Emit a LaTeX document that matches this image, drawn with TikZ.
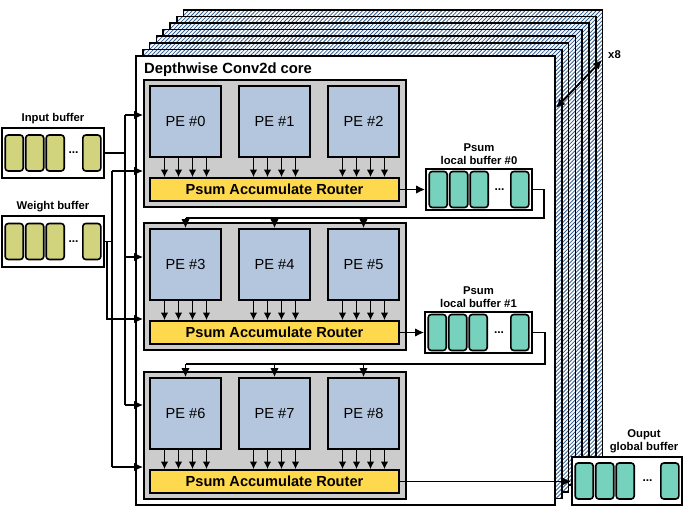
\documentclass[tikz,border=0pt]{standalone}
\usepackage{fontspec}
\setmainfont{Liberation Sans}
\usetikzlibrary{positioning, arrows.meta, patterns.meta}

\definecolor{peblue}{RGB}{180,198,221}
\definecolor{grpgray}{RGB}{204,204,204}
\definecolor{rtyellow}{RGB}{255,217,77}
\definecolor{inolive}{RGB}{210,211,125}
\definecolor{psteal}{RGB}{118,209,189}
\definecolor{hatchblue}{RGB}{52,92,140}

\tikzset{
  wire/.style = {line width=1.8pt},
  flow/.style = {wire, -{Latex[length=9pt,width=8.5pt]}},
  tick/.style = {wire, -{Latex[length=7.5pt,width=7.5pt]}},
  layer/.style = {draw, line width=1.6pt, preaction={fill=white},
    pattern={Lines[angle=45, distance=2.8pt, line width=0.8pt]}, pattern color=hatchblue},
  grp/.style = {draw, line width=1.6pt, fill=grpgray, minimum width=262pt, minimum height=127pt},
  pe/.style = {draw, line width=1.6pt, fill=peblue, minimum width=71pt, minimum height=71pt,
    font=\fontsize{14.6}{17}\selectfont},
  router/.style = {draw, line width=1.6pt, fill=rtyellow, minimum width=249pt, minimum height=23pt,
    font=\fontsize{14.6}{17}\selectfont\bfseries},
  buf/.style = {draw, line width=1.6pt, fill=white},
  cell/.style = {draw, line width=1.6pt, rounded corners=3pt, minimum width=18pt,
    minimum height=36pt, inner sep=0pt},
  dots/.style = {font=\fontsize{12}{12}\selectfont\bfseries, inner sep=0pt},
  lbl/.style = {font=\fontsize{11.3}{13}\selectfont\bfseries, align=center, inner sep=1pt}
}

\begin{document}
\begin{tikzpicture}[x=1pt, y=-1pt]
\useasboundingbox (0,0) rectangle (685,508);

% stacked cores
\foreach \i in {7,6,...,1}
  \draw[layer] ({136+6.8*\i},{56-6.6*\i}) rectangle ({555+6.8*\i},{505-6.6*\i});
\draw[line width=2.2pt, fill=white] (136,56) rectangle (555,505);
\node[font=\fontsize{14.8}{17}\selectfont\bfseries, anchor=west, inner sep=0pt] (corelbl) at (144,70) {Depthwise Conv2d core};

% PE rows
\foreach \r/\t in {0/80, 1/223, 2/372} {
  \node[grp] (g\r) at (275,{\t+63.5}) {};
  \node[router] (rt\r) at (274.5,{\t+109.5}) {Psum Accumulate Router};
  \foreach \c in {0,1,2} {
    \pgfmathtruncatemacro{\n}{3*\r+\c}
    \node[pe] (pe\n) at ({185.5+89*\c},{\t+41.5}) {PE \#\n};
    \foreach \d in {-21,-7,7,21}
      \draw[tick] ([xshift=\d pt]pe\n.south) -- ([xshift=\d pt]pe\n.south |- rt\r.north);
  }
}

% buffers
\node[buf, minimum width=102pt, minimum height=50pt] (inb) at (53,153) {};
\node[buf, minimum width=102pt, minimum height=51pt] (wtb) at (53,241.5) {};
\node[buf, minimum width=106pt, minimum height=41pt] (pb0) at (479,189.5) {};
\node[buf, minimum width=107pt, minimum height=41pt] (pb1) at (478.5,332.5) {};
\node[buf, minimum width=110pt, minimum height=48pt] (outb) at (627,481) {};
\foreach \b/\c in {inb/inolive, wtb/inolive, pb0/psteal, pb1/psteal, outb/psteal} {
  \foreach \k in {0,1,2}
    \node[cell, fill=\c] (\b-\k) at ([xshift={13+20.5*\k}]\b.west) {};
  \node[cell, fill=\c] (\b-3) at ([xshift=-13]\b.east) {};
  \path (\b-2.east) -- node[dots] {...} (\b-3.west);
}
\node[lbl, above=2pt of inb] {Input buffer};
\node[lbl, above=2pt of wtb] {Weight buffer};
\node[lbl, above=2pt of pb0] {Psum\\local buffer \#0};
\node[lbl, above=2pt of pb1] {Psum\\local buffer \#1};
\node[lbl, above=2pt of outb, xshift=17pt] {Ouput\\global buffer};

% input and weight buses
\coordinate (i0) at (125,115);
\coordinate (i1) at (125,257);
\coordinate (i2) at (125,405);
\coordinate (w0) at (112,171);
\coordinate (w1) at (107,319);
\coordinate (w2) at (112,467);
\draw[wire] (i0) -- (i2);
\draw[wire] (inb.east) -- (inb.east -| i0);
\foreach \g in {0,1,2}
  \draw[flow] (i\g) -- (i\g -| g\g.west);
\draw[wire] (w0) -- (w2);
\draw[wire] (wtb.east) -- (wtb.east -| w0);
\draw[flow] (wtb.east -| w1) -- (w1) -- (w1 -| g1.west);
\foreach \g in {0,2}
  \draw[flow] (w\g) -- (w\g -| g\g.west);

% psum paths
\coordinate (p0) at (544,218);
\coordinate (p1) at (545,364);
\draw[flow] (rt0.east) -- (pb0.west);
\draw[flow] (rt1.east) -- (pb1.west);
\draw[wire] (pb0.east) -| (p0) -- (p0 -| pe3.north);
\draw[wire] (pb1.east) -| (p1) -- (p1 -| pe6.north);
\foreach \p in {3,4,5}
  \draw[flow] (p0 -| pe\p.north) -- (pe\p.north);
\foreach \p in {6,7,8}
  \draw[flow] (p1 -| pe\p.north) -- (pe\p.north);
\draw[flow] (rt2.east) -- (rt2.east -| outb.west);

% core count
\coordinate (x8a) at (556,108);
\coordinate (x8b) at (602,60);
\draw[wire, {Latex[length=9pt,width=8.5pt]}-{Latex[length=9pt,width=8.5pt]}] (x8a) -- (x8b);
\node[lbl] (cnt) at (614.5,55) {x8};
\end{tikzpicture}
\end{document}
